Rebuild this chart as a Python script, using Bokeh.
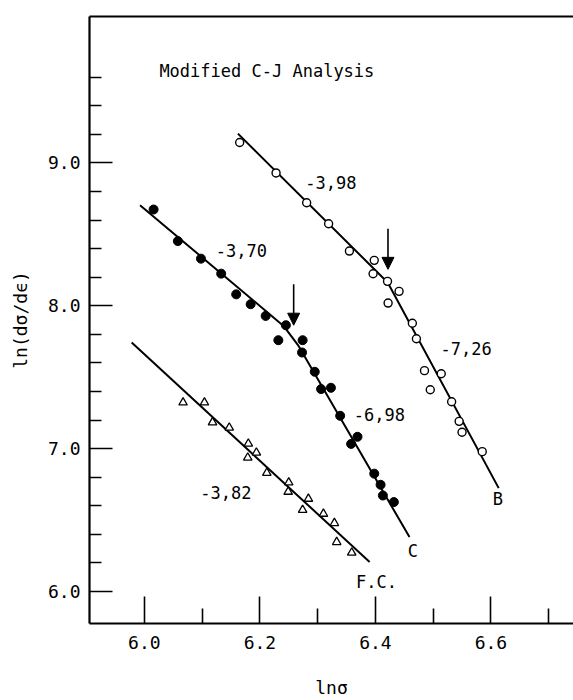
from bokeh.plotting import figure
from bokeh.models import (Range1d, FixedTicker, NumeralTickFormatter, LinearAxis,
                          Arrow, NormalHead, ColumnDataSource)
from bokeh.core.properties import value
from bokeh.embed import file_html
from bokeh.resources import INLINE

FONT = "DejaVu Sans Mono"

# ---- data ----
# Curve B (open circles)
b_x = [6.165, 6.228, 6.281, 6.319, 6.355, 6.398, 6.396, 6.421, 6.441, 6.422,
       6.464, 6.471, 6.485, 6.514, 6.495, 6.532, 6.545, 6.550, 6.585]
b_y = [9.143, 8.930, 8.721, 8.574, 8.383, 8.318, 8.224, 8.171, 8.101, 8.019,
       7.878, 7.769, 7.546, 7.524, 7.412, 7.328, 7.191, 7.115, 6.979]

# Curve C (filled circles)
c_x = [6.016, 6.058, 6.098, 6.133, 6.159, 6.184, 6.210, 6.245, 6.232, 6.274,
       6.273, 6.295, 6.306, 6.323, 6.339, 6.369, 6.358, 6.398, 6.409, 6.413, 6.432]
c_y = [8.674, 8.453, 8.330, 8.225, 8.080, 8.011, 7.929, 7.864, 7.759, 7.759,
       7.673, 7.538, 7.417, 7.426, 7.230, 7.083, 7.033, 6.825, 6.747, 6.672, 6.626]

# Curve F.C. (triangles)
fc_x = [6.067, 6.104, 6.118, 6.147, 6.180, 6.194, 6.179, 6.212, 6.250, 6.249,
        6.284, 6.274, 6.310, 6.329, 6.333, 6.359]
fc_y = [7.323, 7.323, 7.184, 7.147, 7.035, 6.972, 6.937, 6.830, 6.763, 6.698,
        6.649, 6.571, 6.544, 6.479, 6.346, 6.272]

# fitted lines
b_fit_x = [6.162, 6.4213, 6.6135]
b_fit_y = [9.205, 8.163, 6.7235]
c_fit_x = [5.9925, 6.241, 6.267, 6.459]
c_fit_y = [8.704, 7.859, 7.719, 6.381]
fc_fit_x = [5.978, 6.390]
fc_fit_y = [7.743, 6.207]

# arrows marking the break points
arrow_x = [6.4218, 6.2585]
arrow_y_start = [8.539, 8.150]
arrow_y_end = [8.255, 7.864]

# slope labels
slope_labels = ["-3,98", "-3,70", "-7,26", "-6,98", "-3,82"]
slope_x = [6.323, 6.168, 6.557, 6.407, 6.141]
slope_y = [8.866, 8.388, 7.700, 7.240, 6.693]

# curve names
curve_labels = ["B", "C", "F.C."]
curve_label_x = [6.612, 6.465, 6.402]
curve_label_y = [6.649, 6.284, 6.066]

title_text = ["Modified C-J Analysis"]
title_x = [6.026]
title_y = [9.646]

x_ticks = [6.0, 6.2, 6.4, 6.6]
x_minor = [6.1, 6.3, 6.5, 6.7]
y_ticks = [6.0, 7.0, 8.0, 9.0]
y_minor = [6.2, 6.4, 6.6, 6.8, 7.2, 7.4, 7.6, 7.8, 8.2, 8.4, 8.6, 8.8, 9.2, 9.4, 9.6]

# ---- figure ----
p = figure(width=573, height=700,
           x_range=Range1d(5.905, 6.743), y_range=Range1d(5.776, 10.025),
           output_backend="svg", toolbar_location=None,
           min_border_left=89, min_border_right=0, min_border_top=16, min_border_bottom=75)
p.xgrid.visible = False
p.ygrid.visible = False
p.outline_line_color = None
p.background_fill_color = "white"
p.border_fill_color = "white"

for ax in (p.xaxis[0], p.yaxis[0]):
    ax.axis_line_width = 2.2
    ax.axis_line_color = "black"
    ax.major_tick_out = 0
    ax.minor_tick_out = 0
    ax.major_tick_line_width = 1.6
    ax.minor_tick_line_width = 1.6
    ax.major_tick_line_color = "black"
    ax.minor_tick_line_color = "black"
    ax.major_label_text_font = FONT
    ax.major_label_text_font_size = "18px"
    ax.major_label_text_color = "black"
    ax.axis_label_text_font = FONT
    ax.axis_label_text_font_size = "18px"
    ax.axis_label_text_font_style = "normal"
    ax.axis_label_text_color = "black"
    ax.formatter = NumeralTickFormatter(format="0.0")

p.xaxis.ticker = FixedTicker(ticks=x_ticks, minor_ticks=x_minor)
p.xaxis.major_tick_in = 27
p.xaxis.minor_tick_in = 15
p.xaxis.major_label_standoff = 12
p.xaxis.axis_label = "lnσ"
p.xaxis.axis_label_standoff = 25

p.yaxis.ticker = FixedTicker(ticks=y_ticks, minor_ticks=y_minor)
p.yaxis.major_tick_in = 23
p.yaxis.minor_tick_in = 12
p.yaxis.major_label_standoff = 9
p.yaxis.axis_label = "ln(dσ/dϵ)"
p.yaxis.axis_label_standoff = 14

top = LinearAxis(ticker=FixedTicker(ticks=[], minor_ticks=[]),
                 major_label_text_font_size="0px",
                 axis_line_width=2.2, axis_line_color="black",
                 major_tick_line_color=None, minor_tick_line_color=None,
                 major_tick_out=0, major_tick_in=0, minor_tick_out=0, minor_tick_in=0)
p.add_layout(top, "above")

# fitted lines
p.line(b_fit_x, b_fit_y, line_width=2, line_color="black")
p.line(c_fit_x, c_fit_y, line_width=2, line_color="black")
p.line(fc_fit_x, fc_fit_y, line_width=2, line_color="black")

# points
p.scatter(b_x, b_y, marker="circle", size=8, fill_color="white",
          line_color="black", line_width=1.4)
p.scatter(c_x, c_y, marker="circle", size=9, fill_color="black",
          line_color="black", line_width=1)
p.scatter(fc_x, fc_y, marker="triangle", size=8.5, fill_color="white",
          line_color="black", line_width=1.3)

# arrows
arrow_src = ColumnDataSource(dict(x0=arrow_x, y0=arrow_y_start, x1=arrow_x, y1=arrow_y_end))
p.add_layout(Arrow(end=NormalHead(size=12, fill_color="black", line_color="black"),
                   x_start="x0", y_start="y0", x_end="x1", y_end="y1",
                   source=arrow_src, line_width=1.6, line_color="black"))

# labels
p.text(x=slope_x, y=slope_y, text=slope_labels, text_font=value(FONT),
       text_font_size="17px", text_align="center", text_baseline="middle",
       text_color="black")
p.text(x=curve_label_x, y=curve_label_y, text=curve_labels, text_font=value(FONT),
       text_font_size="17px", text_align="center", text_baseline="middle",
       text_color="black")
p.text(x=title_x, y=title_y, text=title_text, text_font=value(FONT),
       text_font_size="17px", text_align="left", text_baseline="middle",
       text_color="black")

open("out.html", "w").write(file_html(p, INLINE))
